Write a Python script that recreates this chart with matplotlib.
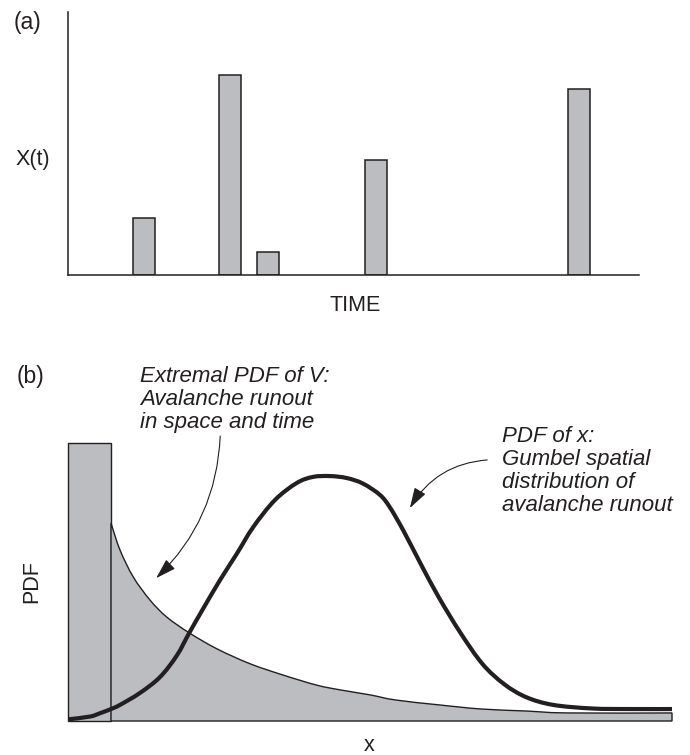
import matplotlib
matplotlib.use("Agg")
import matplotlib.pyplot as plt
import numpy as np
from matplotlib.path import Path
from matplotlib.patches import Rectangle, PathPatch, FancyArrowPatch

plt.rcParams["font.family"] = ["Liberation Sans", "DejaVu Sans"]

# ---- panel (a): event magnitudes X(t) along the time axis ----
event_time = [13.3, 28.4, 35.0, 54.0, 89.5]
event_size = [21.7, 76.0, 8.7, 43.7, 70.7]
bar_width = 3.85

# ---- panel (b): extremal PDF of V (spike at origin + heavy tail) ----
spike_width = 7.12
spike_height = 100.0
tail_x = [7.12, 8.61, 10.81, 13.58, 16.34, 20.08, 24.62, 30.13, 35.65,
          41.18, 45.03, 50.0, 54.1, 61.4, 68.5, 75.8, 82.6, 100.0]
tail_y = [71.2, 61.5, 51.8, 43.5, 37.4, 31.7, 26.0, 20.6, 16.5,
          12.9, 11.2, 9.4, 7.6, 5.8, 4.3, 3.6, 2.9, 2.9]

# Gumbel spatial PDF of runout x
gumbel_x = [0.05, 3.64, 5.30, 7.12, 8.61, 11.92, 15.23, 18.0, 20.08, 22.4,
            25.17, 27.93, 30.68, 34.27, 37.86, 40.56, 43.38, 46.14, 48.84,
            51.66, 53.31, 55.55, 58.28, 61.36, 64.98, 68.63, 72.19, 75.83,
            80.3, 86.75, 93.05, 100.0]
gumbel_y = [0.6, 1.6, 2.8, 4.3, 5.8, 10.1, 15.8, 23.5, 31.7, 40.5,
            50.7, 60.1, 69.8, 79.5, 85.6, 87.8, 88.1, 87.4, 85.4,
            81.3, 76.8, 68.4, 57.0, 44.6, 31.7, 20.5, 13.3, 8.6,
            5.8, 4.5, 4.3, 4.3]

GRAY = "#bcbdc1"
INK = "#231f20"
FS = 15.5
FS_PANEL = 16.5
FS_NOTE = 16

W, H = 690, 755


def fx(px):
    return px / W


def fy(py):
    return 1 - py / H


def bezier_through(xs, ys):
    """Cubic Bezier path passing through the given points (Catmull-Rom tangents)."""
    pts = np.column_stack([xs, ys]).astype(float)
    n = len(pts)
    verts = [pts[0]]
    codes = [Path.MOVETO]
    for i in range(n - 1):
        p0 = pts[max(i - 1, 0)]
        p1 = pts[i]
        p2 = pts[i + 1]
        p3 = pts[min(i + 2, n - 1)]
        verts += [p1 + (p2 - p0) / 6, p2 - (p3 - p1) / 6, p2]
        codes += [Path.CURVE4] * 3
    return verts, codes


fig = plt.figure(figsize=(6.9, 7.55), dpi=100)

# ---------------- (a) ----------------
ax_a = fig.add_axes([fx(68), fy(275), (639 - 68) / W, (275 - 12) / H])
ax_a.bar(event_time, event_size, width=bar_width, color=GRAY,
         edgecolor=INK, linewidth=1.1, zorder=2)
ax_a.set_xlim(0, 100)
ax_a.set_ylim(0, 100)
for side in ["top", "right"]:
    ax_a.spines[side].set_visible(False)
for side in ["left", "bottom"]:
    ax_a.spines[side].set_color(INK)
    ax_a.spines[side].set_linewidth(1.1)
    ax_a.spines[side].set_zorder(3)
ax_a.set_xticks([])
ax_a.set_yticks([])
ax_a.patch.set_alpha(0)

fig.text(fx(27), fy(22), "(a)", fontsize=FS_PANEL, ha="center", va="center", color=INK)
fig.text(fx(33), fy(160), "X(t)", fontsize=FS, ha="center", va="center", color=INK)
fig.text(fx(355), fy(305), "TIME", fontsize=FS, ha="center", va="center", color=INK)

# ---------------- (b) ----------------
ax_b = fig.add_axes([fx(68), fy(721), (672 - 68) / W, (721 - 443) / H])
ax_b.set_xlim(0, 100)
ax_b.set_ylim(0, 100)
ax_b.axis("off")

ax_b.add_patch(Rectangle((0, 0), spike_width, spike_height, facecolor=GRAY,
                         edgecolor=INK, linewidth=1.0, clip_on=False, zorder=1))

# shaded tail: smooth top edge, closed along the x axis
verts, codes = bezier_through(tail_x, tail_y)
verts += [(tail_x[-1], 0), (tail_x[0], 0), (tail_x[0], tail_y[0])]
codes += [Path.LINETO, Path.LINETO, Path.CLOSEPOLY]
ax_b.add_patch(PathPatch(Path(verts, codes), facecolor=GRAY, edgecolor=INK,
                         linewidth=1.0, joinstyle="miter", clip_on=False, zorder=1))

verts, codes = bezier_through(gumbel_x, gumbel_y)
ax_b.add_patch(PathPatch(Path(verts, codes), facecolor="none", edgecolor=INK,
                         linewidth=3.0, capstyle="butt", clip_on=False, zorder=3))

fig.text(fx(30), fy(377), "(b)", fontsize=FS_PANEL, ha="center", va="center", color=INK)
fig.text(fx(32), fy(582), "PDF", fontsize=FS, ha="center", va="center",
         rotation=90, color=INK)
fig.text(fx(369), fy(751), "x", fontsize=FS, ha="center", va="baseline", color=INK)

fig.text(fx(140), fy(366), "Extremal PDF of V:\nAvalanche runout\nin space and time",
         fontsize=FS_NOTE, style="italic", ha="left", va="top", linespacing=1.13,
         color=INK)
fig.text(fx(502), fy(426),
         "PDF of x:\nGumbel spatial\ndistribution of\navalanche runout",
         fontsize=FS_NOTE, style="italic", ha="left", va="top", linespacing=1.13,
         color=INK)

arrow_kw = dict(arrowstyle="-|>,head_length=0.9,head_width=0.28",
                mutation_scale=14, color=INK, linewidth=0.8,
                shrinkA=0, shrinkB=0, clip_on=False)
ax_b.add_patch(FancyArrowPatch((25.2, 102.5), (14.6, 51.4),
                               connectionstyle="arc3,rad=-0.2", **arrow_kw))
ax_b.add_patch(FancyArrowPatch((69.4, 93.9), (56.6, 76.6),
                               connectionstyle="arc3,rad=0.26", **arrow_kw))

fig.savefig("out.png", dpi=100)
